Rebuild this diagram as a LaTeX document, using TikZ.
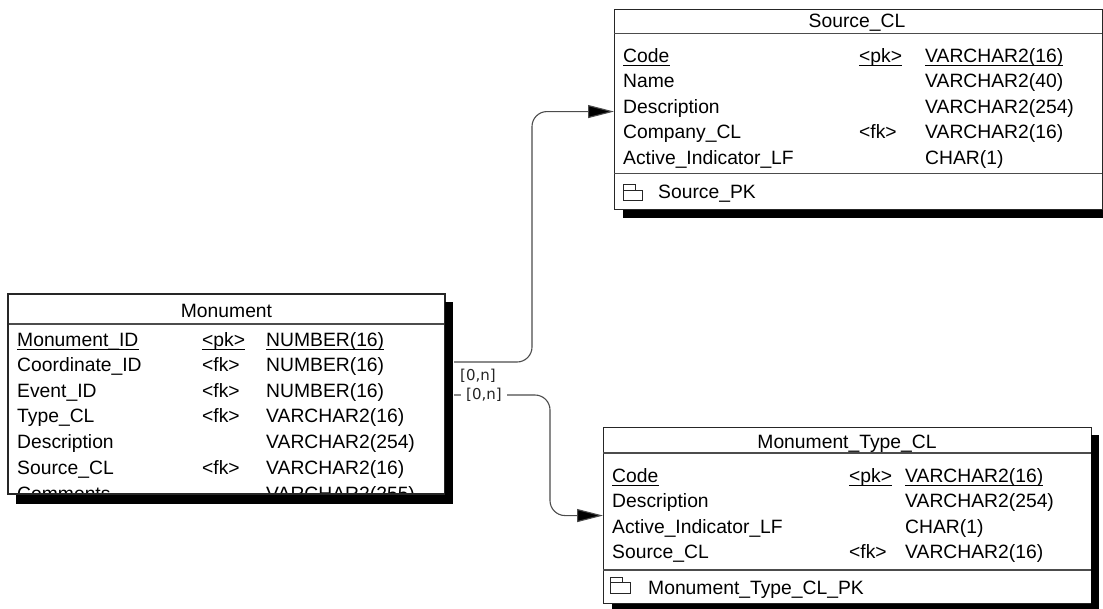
\documentclass[tikz,border=0pt]{standalone}
\usepackage{fontspec}
\setmainfont{Liberation Sans}
\newfontfamily\lblfont{DejaVu Sans}
\usetikzlibrary{arrows.meta,calc}
\newcommand\ulnode[1]{\draw[ul] ([yshift=-3.2pt]#1.base west) -- ([yshift=-3.2pt]#1.base east);}
\begin{document}
\begin{tikzpicture}[x=1pt,y=-1pt,
  tbl/.style={draw=black!85,line width=1.1pt,fill=white,rectangle,inner sep=0pt,anchor=north west},
  sep/.style={draw=black!70,line width=1.1pt},
  shd/.style={fill=black},
  cell/.style={anchor=base west,inner sep=0pt,font=\fontsize{19.3}{22}\selectfont},
  head/.style={anchor=base,inner sep=0pt,font=\fontsize{19.3}{22}\selectfont},
  ul/.style={line width=1.4pt},
  conn/.style={draw=black!70,line width=1.1pt,rounded corners=15pt,-{Triangle[length=26pt,width=13pt,fill=black]}},
  card/.style={font=\lblfont\fontsize{15}{17}\selectfont,text=black!85,inner sep=0pt},
  pkicon/.style={draw=black!85,line width=1pt}
]
\useasboundingbox (0,0) rectangle (1103,608);
\clip (0,0) rectangle (1103,608);

% ---------------- Monument ----------------
\node[tbl,minimum width=437pt,minimum height=200pt] (mon) at (8,294) {};
\draw[sep] (8,324) -- (445,324);
\node[head] (monh) at (226.5,317) {Monument};
\node[cell] (m1a) at (17,346) {Monument\_ID};
\node[cell] (m1b) at (202,346) {<pk>};
\node[cell] (m1c) at (266,346) {NUMBER(16)};
\ulnode{m1a}\ulnode{m1b}\ulnode{m1c}
\node[cell] (m2a) at (17,371.6) {Coordinate\_ID};
\node[cell] (m2b) at (202,371.6) {<fk>};
\node[cell] (m2c) at (266,371.6) {NUMBER(16)};
\node[cell] (m3a) at (17,397.2) {Event\_ID};
\node[cell] (m3b) at (202,397.2) {<fk>};
\node[cell] (m3c) at (266,397.2) {NUMBER(16)};
\node[cell] (m4a) at (17,422.8) {Type\_CL};
\node[cell] (m4b) at (202,422.8) {<fk>};
\node[cell] (m4c) at (266,422.8) {VARCHAR2(16)};
\node[cell] (m5a) at (17,448.4) {Description};
\node[cell] (m5c) at (266,448.4) {VARCHAR2(254)};
\node[cell] (m6a) at (17,474) {Source\_CL};
\node[cell] (m6b) at (202,474) {<fk>};
\node[cell] (m6c) at (266,474) {VARCHAR2(16)};
\node[cell] (m7a) at (17,500.5) {Comments};
\node[cell] (m7c) at (266,500.5) {VARCHAR2(255)};
\draw[draw=black!85,line width=1.1pt] (8,294) rectangle (445,494);
\fill[shd] (445,302) rectangle (453,504);
\fill[shd] (16,494.5) rectangle (453,504);

% ---------------- Source_CL ----------------
\node[tbl,minimum width=488pt,minimum height=200pt] (src) at (614,9) {};
\draw[sep] (614,33.5) -- (1102,33.5);
\node[head] (srch) at (857,27.5) {Source\_CL};
\node[cell] (s1a) at (623,62) {Code};
\node[cell] (s1b) at (859,62) {<pk>};
\node[cell] (s1c) at (925,62) {VARCHAR2(16)};
\ulnode{s1a}\ulnode{s1b}\ulnode{s1c}
\node[cell] (s2a) at (623,87.5) {Name};
\node[cell] (s2c) at (925,87.5) {VARCHAR2(40)};
\node[cell] (s3a) at (623,113) {Description};
\node[cell] (s3c) at (925,113) {VARCHAR2(254)};
\node[cell] (s4a) at (623,138.5) {Company\_CL};
\node[cell] (s4b) at (859,138.5) {<fk>};
\node[cell] (s4c) at (925,138.5) {VARCHAR2(16)};
\node[cell] (s5a) at (623,164) {Active\_Indicator\_LF};
\node[cell] (s5c) at (925,164) {CHAR(1)};
\draw[sep] (614,173.5) -- (1102,173.5);
\draw[pkicon] (623,190) rectangle (642,200);
\draw[pkicon] (623,190) -- (623,184) -- (635,184) -- (635,190);
\node[cell] (spk) at (658,198.5) {Source\_PK};
\fill[shd] (623,209.5) rectangle (1110,218);

% ---------------- Monument_Type_CL ----------------
\node[tbl,minimum width=488pt,minimum height=176pt] (typ) at (603,427) {};
\draw[sep] (603,453) -- (1091,453);
\node[head] (typh) at (847,448.5) {Monument\_Type\_CL};
\node[cell] (t1a) at (612,482) {Code};
\node[cell] (t1b) at (849,482) {<pk>};
\node[cell] (t1c) at (905,482) {VARCHAR2(16)};
\ulnode{t1a}\ulnode{t1b}\ulnode{t1c}
\node[cell] (t2a) at (612,507.5) {Description};
\node[cell] (t2c) at (905,507.5) {VARCHAR2(254)};
\node[cell] (t3a) at (612,533) {Active\_Indicator\_LF};
\node[cell] (t3c) at (905,533) {CHAR(1)};
\node[cell] (t4a) at (612,558.5) {Source\_CL};
\node[cell] (t4b) at (849,558.5) {<fk>};
\node[cell] (t4c) at (905,558.5) {VARCHAR2(16)};
\draw[sep] (603,570) -- (1091,570);
\draw[pkicon] (610,582) rectangle (630,593);
\draw[pkicon] (610,582) -- (610,577) -- (622,577) -- (622,582);
\node[cell] (tpk) at (648,594) {Monument\_Type\_CL\_PK};
\fill[shd] (1091,435) rectangle (1099,612);
\fill[shd] (612,603.5) rectangle (1099,612);

% ---------------- connectors ----------------
\coordinate (c1) at ($(mon.north east)+(8,68)$);
\coordinate (c2) at ($(mon.north east)+(8,101)$);
\draw[conn] (c1) -| ($(src.west)+(-82,2)$) -- ($(src.west)+(0,2)$);
\draw[conn] (c2) -| ($(typ.west)+(-53,0)$) -- (typ.west);
\node[card] (l1) at (478,376) {[0,n]};
\node[card,fill=white,inner xsep=5pt,inner ysep=1pt] (l2) at (484,395) {[0,n]};
\end{tikzpicture}
\end{document}
